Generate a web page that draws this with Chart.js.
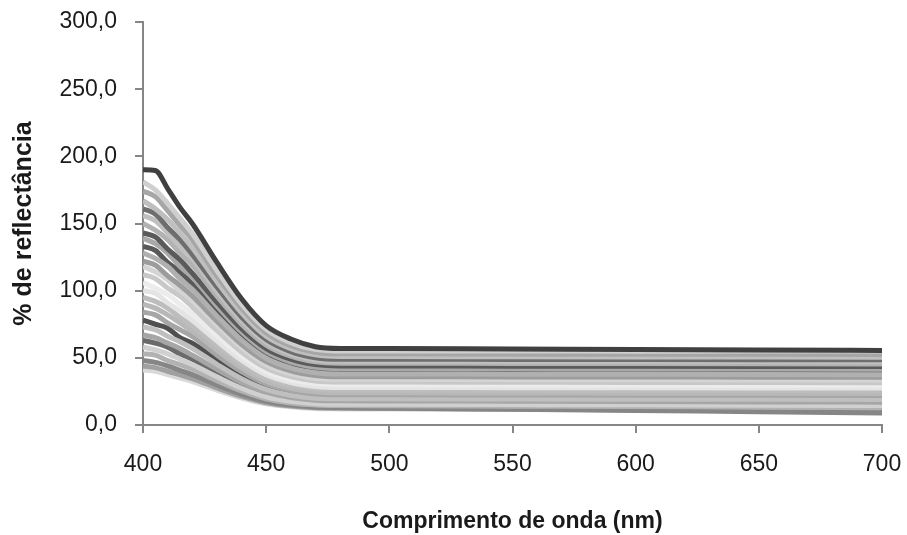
<!DOCTYPE html>
<html>
<head>
<meta charset="utf-8">
<script src="https://cdn.jsdelivr.net/npm/chart.js@4.4.1/dist/chart.umd.min.js"></script>
<style>
  html, body { margin: 0; padding: 0; background: #fff; }
  #caixa { width: 907px; height: 535px; }
</style>
</head>
<body>
<div id="caixa"><canvas id="grafico"></canvas></div>
<script>
// ── Dados ─────────────────────────────────────
const comprimentos = [400, 405, 410, 415, 420, 430, 440, 450, 460, 470, 480, 500, 550, 600, 650, 700]

const amostra01 = [190, 189.5, 176, 162, 150, 121, 94, 74, 64, 58.3, 57, 56.9, 56.5, 56.2, 55.8, 55.5]
const amostra02 = [181, 175, 165, 154, 142.5, 115, 90, 71.3, 61.3, 56.3, 55, 55, 55.1, 54.9, 55, 55]
const amostra03 = [174, 170, 159.5, 148.6, 138, 111, 87, 68.7, 59, 54.2, 53, 53, 52.8, 52.7, 52.6, 52.5]
const amostra04 = [167, 161, 153, 143, 132, 106.7, 83.5, 66, 56.8, 52.2, 51, 50.9, 50.8, 50.7, 50.6, 50.5]
const amostra05 = [161, 157, 147, 138, 127, 102.8, 80.4, 63.6, 54.6, 50.1, 49, 49, 48.8, 48.7, 48.6, 48.5]
const amostra06 = [156, 152, 143, 133, 124, 99.6, 77.9, 61.6, 52.9, 48.6, 47.5, 47.5, 47.3, 47.2, 47.1, 47]
const amostra07 = [150, 145, 138, 128, 119, 95.9, 75.1, 59.5, 51.2, 47, 46, 46, 45.8, 45.7, 45.6, 45.5]
const amostra08 = [143, 140, 131, 123, 113, 91.5, 71.7, 56.9, 49, 45, 44, 44, 43.8, 43.7, 43.6, 43.5]
const amostra09 = [139, 135, 128, 118, 110, 88.6, 69.2, 54.6, 46.9, 43, 42, 42, 41.8, 41.7, 41.6, 41.5]
const amostra10 = [133, 130, 121, 114, 105, 84.6, 66, 52.1, 44.7, 40.9, 40, 40, 39.8, 39.7, 39.6, 39.5]
const amostra11 = [128, 124, 118, 109, 101, 81.2, 63.2, 49.7, 42.5, 38.9, 38, 38, 37.8, 37.7, 37.6, 37.5]
const amostra12 = [122, 119, 111, 104, 96, 77.3, 60.1, 47.2, 40.3, 36.9, 36, 36, 35.8, 35.7, 35.6, 35.5]
const amostra13 = [118, 114, 108, 100, 93, 74.3, 57.5, 44.9, 38.2, 34.8, 34, 34, 33.8, 33.7, 33.6, 33.5]
const amostra14 = [112, 109, 102, 96, 88, 70.4, 54.4, 42.4, 36, 32.8, 32, 32, 31.8, 31.7, 31.6, 31.5]
const amostra15 = [106, 102, 97, 90, 83, 66.5, 51.3, 39.9, 33.8, 30.8, 30, 30, 29.8, 29.7, 29.6, 29.5]
const amostra16 = [100, 98, 91, 85, 78, 62.6, 48.2, 37.4, 31.6, 28.7, 28, 28, 27.8, 27.7, 27.6, 27.5]
const amostra17 = [95, 92, 87, 80, 74, 59.1, 45.3, 35, 29.5, 26.7, 26, 26, 25.8, 25.7, 25.6, 25.5]
const amostra18 = [90, 87, 82, 76, 70, 55.7, 42.5, 32.6, 27.3, 24.7, 24, 24, 23.8, 23.7, 23.6, 23.5]
const amostra19 = [84, 82, 76, 71, 66, 52, 39.7, 30.5, 25.6, 23.1, 22.5, 22.5, 22.3, 22.2, 22.1, 22]
const amostra20 = [78, 75, 72, 65, 61, 48.4, 37, 28.4, 23.9, 21.6, 21, 20.9, 20.7, 20.5, 20.2, 20]
const amostra21 = [73, 71, 66, 62, 57, 45.2, 34.5, 26.5, 22.2, 20, 19.5, 19.5, 19.3, 19.2, 19.1, 19]
const amostra22 = [67, 65, 61, 57, 52, 41.5, 31.7, 24.4, 20.5, 18.5, 18, 17.9, 17.7, 17.5, 17.2, 17]
const amostra23 = [63, 61, 58, 53, 49, 39.1, 29.9, 23, 19.3, 17.5, 17, 16.9, 16.7, 16.5, 16.2, 16]
const amostra24 = [58, 56, 53, 49, 45, 35.9, 27.4, 21, 17.6, 15.9, 15.5, 15.4, 15.2, 15, 14.7, 14.5]
const amostra25 = [53, 52, 48, 45, 41.5, 33, 25.3, 19.5, 16.4, 14.9, 14.5, 14.4, 14, 13.7, 13.3, 13]
const amostra26 = [48, 46.6, 44, 40.7, 37.5, 29.8, 22.8, 17.6, 14.8, 13.4, 13, 12.6, 11.7, 10.8, 9.9, 9]
const amostra27 = [44, 42.7, 40, 37.4, 34.6, 27.6, 21.3, 16.6, 14.1, 12.8, 12.5, 12.3, 11.9, 11.4, 11, 10.5]
const amostra28 = [41, 40, 37.5, 35, 32.3, 25.9, 20.1, 15.8, 13.5, 12.3, 12, 11.9, 11.7, 11.5, 11.2, 11]

const amostras = [amostra01, amostra02, amostra03, amostra04, amostra05, amostra06, amostra07,
                  amostra08, amostra09, amostra10, amostra11, amostra12, amostra13, amostra14,
                  amostra15, amostra16, amostra17, amostra18, amostra19, amostra20, amostra21,
                  amostra22, amostra23, amostra24, amostra25, amostra26, amostra27, amostra28]

// tons de cinza; a primeira série fica por cima
const cores = ['#404040', '#cfcfcf', '#a6a6a6', '#bfbfbf', '#6e6e6e', '#c0c0c0', '#b2b2b2',
               '#5a5a5a', '#a9a9a9', '#595959', '#b0b0b0', '#9c9c9c', '#d4d4d4', '#c8c8c8',
               '#ececec', '#e4e4e4', '#bdbdbd', '#b8b8b8', '#a6a6a6', '#4f4f4f', '#bfbfbf',
               '#a6a6a6', '#6a6a6a', '#d0d0d0', '#b2b2b2', '#868686', '#a0a0a0', '#d9d9d9']
// séries escuras que ficam por baixo das vizinhas
const porBaixo = [10, 20, 23]

// ── Tema ──────────────────────────────────────
Chart.defaults.font.family = "'Liberation Sans', Arial, sans-serif"
Chart.defaults.font.size   = 23
Chart.defaults.color       = '#1a1a1a'

const corEixo = '#868686'

const datasets = amostras.map((valores, i) => ({
  label: 'Amostra ' + (i + 1),
  data: comprimentos.map((x, j) => ({ x, y: valores[j] })),
  borderColor: cores[i],
  borderWidth: 5,
  pointRadius: 0,
  cubicInterpolationMode: 'monotone',
  order: porBaixo.includes(i + 1) ? 1 : 0,
  fill: false
}))

new Chart(document.getElementById('grafico'), {
  type: 'line',
  data: { datasets },
  options: {
    responsive: true,
    maintainAspectRatio: false,
    animation: false,
    // área do gráfico fixa: 143..882 x 22..425
    layout: { padding: { top: 22, right: 25, left: 0, bottom: 0 } },
    plugins: { legend: { display: false }, tooltip: { enabled: false } },
    scales: {
      x: {
        type: 'linear',
        min: 400, max: 700,
        ticks: { stepSize: 50, padding: 18 },
        grid: { drawOnChartArea: false, tickLength: 8, color: corEixo, lineWidth: 2 },
        border: { color: corEixo, width: 2 },
        title: {
          display: true,
          text: 'Comprimento de onda (nm)',
          font: { weight: 'bold', size: 23 },
          padding: { top: 1, bottom: 0 }
        },
        afterFit: s => {
          s.height = 535 - 425
          s.paddingLeft = 0
          s.paddingRight = 0
        }
      },
      y: {
        min: 0, max: 300,
        ticks: {
          stepSize: 50,
          padding: 18,
          callback: v => v.toFixed(1).replace('.', ',')
        },
        grid: { drawOnChartArea: false, tickLength: 8, color: corEixo, lineWidth: 2 },
        border: { color: corEixo, width: 2 },
        title: {
          display: true,
          text: '% de reflectância',
          font: { weight: 'bold', size: 25 },
          padding: { top: 9, bottom: 0 }
        },
        afterFit: s => {
          s.width = 143
          s.paddingTop = 0
          s.paddingBottom = 0
        }
      }
    }
  }
})
</script>
</body>
</html>
